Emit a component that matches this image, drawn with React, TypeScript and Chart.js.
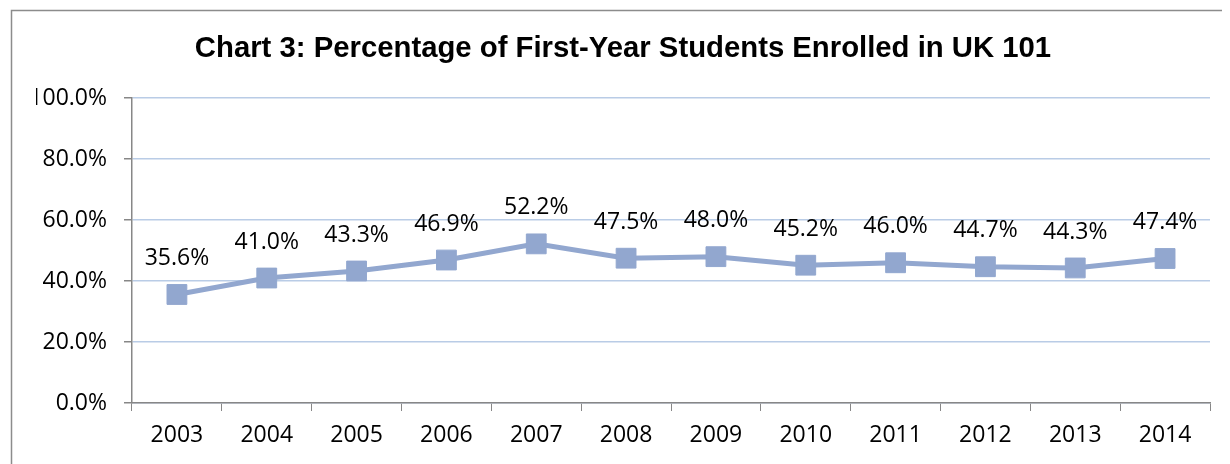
import React, { useEffect, useRef } from "react";
import { Chart, registerables } from "chart.js";

Chart.register(...registerables);

const years = ["2003", "2004", "2005", "2006", "2007", "2008", "2009", "2010", "2011", "2012", "2013", "2014"];
const enrolledPct = [35.6, 41.0, 43.3, 46.9, 52.2, 47.5, 48.0, 45.2, 46.0, 44.7, 44.3, 47.4];
const yTicks = [0, 20, 40, 60, 80, 100];
const titleText = "Chart 3: Percentage of First-Year Students Enrolled in UK 101";

const SERIES = "#92A7CF";
const GRID = "#B9CCE6";
const AXIS = "#878787";
const LABEL_FONT = "'Open Sans', 'DejaVu Sans', sans-serif";

const frame = {
  id: "frame",
  beforeDraw(chart: any) {
    const ctx = chart.ctx;
    ctx.save();
    ctx.fillStyle = "#fff";
    ctx.fillRect(0, 0, chart.width, chart.height);
    ctx.strokeStyle = "#8C8C8C";
    ctx.lineWidth = 1.5;
    ctx.strokeRect(3.5, 2.5, chart.width + 20, chart.height + 20);
    ctx.restore();
  },
};

const valueLabels = {
  id: "valueLabels",
  afterDatasetsDraw(chart: any) {
    const ctx = chart.ctx;
    const meta = chart.getDatasetMeta(0);
    ctx.save();
    ctx.font = `23px ${LABEL_FONT}`;
    ctx.fillStyle = "#000";
    ctx.textAlign = "center";
    ctx.textBaseline = "middle";
    meta.data.forEach((pt: any, i: number) => {
      ctx.fillText(enrolledPct[i].toFixed(1) + "%", pt.x, pt.y - 36);
    });
    ctx.restore();
  },
};

export default function App() {
  const ref = useRef<HTMLCanvasElement>(null);
  useEffect(() => {
    if (!ref.current) return;
    const chart = new Chart(ref.current, {
      type: "line",
      data: {
        labels: years,
        datasets: [
          {
            data: enrolledPct,
            borderColor: SERIES,
            backgroundColor: SERIES,
            borderWidth: 5,
            pointStyle: "rect",
            pointRadius: 14,
            pointBorderWidth: 1,
            pointBorderColor: SERIES,
            pointBackgroundColor: SERIES,
            tension: 0,
          },
        ],
      },
      options: {
        animation: false,
        responsive: false,
        events: [],
        layout: { padding: { left: 28, right: 20, top: 0, bottom: 0 } },
        plugins: {
          legend: { display: false },
          tooltip: { enabled: false },
          title: {
            display: true,
            text: titleText,
            color: "#000",
            font: { family: "'Liberation Sans', Arial, sans-serif", size: 29.3, weight: "bold" },
            padding: { top: 23, bottom: 32 },
          },
        },
        scales: {
          x: {
            type: "category",
            offset: true,
            afterFit: (s: any) => {
              s.height = 61;
            },
            grid: {
              display: true,
              drawOnChartArea: false,
              drawTicks: true,
              tickLength: 8,
              offset: true,
              color: AXIS,
              tickColor: AXIS,
            },
            border: { display: true, color: AXIS, width: 1.5 },
            ticks: {
              color: "#000",
              padding: 11,
              maxRotation: 0,
              autoSkip: false,
              font: { family: LABEL_FONT, size: 23 },
            },
          },
          y: {
            min: 0,
            max: 100,
            afterFit: (s: any) => {
              s.width = 96;
            },
            afterBuildTicks: (s: any) => {
              s.ticks = yTicks.map((v) => ({ value: v }));
            },
            grid: {
              color: GRID,
              lineWidth: 1.5,
              tickLength: 8,
              tickColor: AXIS,
            },
            border: { display: true, color: AXIS, width: 1.5 },
            ticks: {
              color: "#000",
              padding: 17,
              font: { family: LABEL_FONT, size: 23 },
              callback: (v: any) => Number(v).toFixed(1) + "%",
            },
          },
        },
      },
      plugins: [frame, valueLabels],
    });
    return () => chart.destroy();
  }, []);
  return <canvas ref={ref} width={1222} height={456} style={{ display: "block" }} />;
}
